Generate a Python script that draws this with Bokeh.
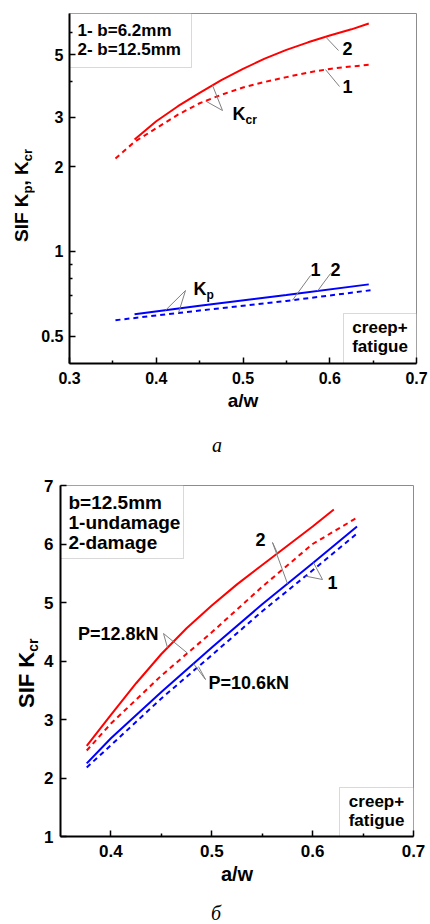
import numpy as np
from bokeh.plotting import figure
from bokeh.layouts import column, row
from bokeh.models import Label, BoxAnnotation, FixedTicker, Range1d, CustomJSTickFormatter, Div
from bokeh.embed import file_html
from bokeh.resources import INLINE

# ---------------- data: panel a (log scale) ----------------
aw_kcr2 = [0.375, 0.40, 0.425, 0.45, 0.475, 0.50, 0.525, 0.55, 0.575, 0.60, 0.625, 0.645]
kcr2 = [2.50, 2.90, 3.28, 3.66, 4.06, 4.45, 4.84, 5.20, 5.53, 5.85, 6.15, 6.45]     # 2- b=12.5mm
aw_kcr1 = [0.353, 0.375, 0.40, 0.425, 0.45, 0.475, 0.50, 0.525, 0.55, 0.575, 0.60, 0.625, 0.645]
kcr1 = [2.14, 2.45, 2.74, 3.06, 3.36, 3.60, 3.82, 4.00, 4.16, 4.32, 4.45, 4.54, 4.60]  # 1- b=6.2mm
aw_kp2 = [0.375, 0.45, 0.55, 0.645]
kp2 = [0.598, 0.641, 0.700, 0.764]
aw_kp1 = [0.353, 0.45, 0.55, 0.647]
kp1 = [0.570, 0.617, 0.667, 0.728]
xticks_a = [0.3, 0.4, 0.5, 0.6, 0.7]
yticks_a = [0.5, 1, 2, 3, 5]

# ---------------- data: panel b (linear) ----------------
aw_b = [0.376, 0.40, 0.45, 0.50, 0.55, 0.60, 0.644]
aw_r2 = [0.376, 0.40, 0.425, 0.45, 0.475, 0.50, 0.525, 0.55, 0.575, 0.60, 0.621]
red_damage = [2.55, 3.08, 3.62, 4.12, 4.56, 4.95, 5.31, 5.64, 5.97, 6.30, 6.59]   # P=12.8kN, 2-damage
red_undamage = [2.47, 2.93, 3.75, 4.49, 5.27, 6.00, 6.45]   # P=12.8kN, 1-undamage
blue_damage = [2.25, 2.68, 3.47, 4.23, 4.97, 5.67, 6.30]    # P=10.6kN, 2-damage
blue_undamage = [2.18, 2.56, 3.36, 4.10, 4.85, 5.55, 6.18]  # P=10.6kN, 1-undamage
xticks_b = [0.4, 0.5, 0.6, 0.7]
yticks_b = [1, 2, 3, 4, 5, 6, 7]

FONT = "Liberation Sans"
SERIF = "Liberation Serif"
RED = "#ff0000"
BLUE = "#0000ff"
GRAY = "#808080"
DASH = "5 4"


def style(p, fs_tick, fs_lab):
    p.xgrid.visible = False
    p.ygrid.visible = False
    p.outline_line_color = "#8c8c8c"
    p.outline_line_width = 1
    p.background_fill_color = "white"
    p.border_fill_color = "white"
    for ax in (p.xaxis[0], p.yaxis[0]):
        ax.axis_line_width = 2
        ax.axis_line_color = "black"
        ax.major_tick_in = 6
        ax.major_tick_out = 0
        ax.minor_tick_in = 3
        ax.minor_tick_out = 0
        ax.major_tick_line_width = 1.5
        ax.minor_tick_line_width = 1.5
        ax.major_tick_line_color = "black"
        ax.minor_tick_line_color = "black"
        ax.major_label_text_font = FONT
        ax.major_label_text_font_style = "bold"
        ax.major_label_text_font_size = f"{fs_tick}px"
        ax.major_label_text_color = "black"
        ax.axis_label_text_font = FONT
        ax.axis_label_text_font_style = "bold"
        ax.axis_label_text_font_size = f"{fs_lab}px"
        ax.axis_label_text_color = "black"
        ax.formatter = CustomJSTickFormatter(code="return tick.toString();")


def lab(p, x, y, text, size, align="left", baseline="middle", font=FONT, fstyle="bold"):
    p.add_layout(Label(x=x, y=y, text=text, text_font=font,
                       text_font_size=f"{size}px", text_font_style=fstyle,
                       text_align=align, text_baseline=baseline, text_color="black"))


def leader(p, x0, y0, x1, y1):
    p.segment(x0=[x0], y0=[y0], x1=[x1], y1=[y1], line_color=GRAY, line_width=1)


def ylabel_div(width, height, left, top, size, sub, parts):
    html = "".join(
        f'<span style="font-size:{sub}px;vertical-align:-4px">{t}</span>' if s else t
        for t, s in parts)
    return Div(width=width, height=height, margin=0, text=(
        f'<div style="position:relative;width:{width}px;height:{height}px;">'
        f'<span style="position:absolute;left:{left}px;top:{top}px;white-space:nowrap;'
        f'transform:rotate(-90deg);transform-origin:0 0;font-family:\'{FONT}\';'
        f'font-weight:bold;font-size:{size}px;line-height:1;color:black;">{html}</span></div>'))


def caption_div(width, height, left, top, text):
    return Div(width=width, height=height, margin=0, text=(
        f'<div style="position:relative;width:{width}px;height:{height}px;">'
        f'<span style="position:absolute;left:{left}px;top:{top}px;font-family:\'{SERIF}\';'
        f'font-style:italic;font-size:20px;line-height:1;color:black;">{text}</span></div>'))


# ================= panel a =================
XA0, XA1, YA0, YA1 = 0.3, 0.7, 0.4, 7.0
LA, TA, WA, HA = 69, 13, 347, 350
DIVA = 34
H1 = 420
p1 = figure(width=430 - DIVA, height=H1, x_range=Range1d(XA0, XA1), y_range=Range1d(YA0, YA1),
            y_axis_type="log", output_backend="svg", toolbar_location=None,
            min_border_left=LA - DIVA, min_border_right=430 - LA - WA,
            min_border_top=TA, min_border_bottom=H1 - TA - HA)
p1.xaxis.ticker = FixedTicker(ticks=xticks_a, minor_ticks=[0.35, 0.45, 0.55, 0.65])
p1.yaxis.ticker = FixedTicker(ticks=yticks_a, minor_ticks=[0.6, 0.7, 0.8, 0.9, 4, 6])
style(p1, 16, 19)
p1.xaxis.axis_label = "a/w"
p1.xaxis.major_label_standoff = 8
p1.xaxis.axis_label_standoff = 3
p1.yaxis.major_label_standoff = 6


def tx(px):
    return XA0 + (px - LA) / WA * (XA1 - XA0)


def ty(py):
    return 10 ** (np.log10(YA1) - (py - TA) / HA * np.log10(YA1 / YA0))


def on_log(xs, ys, x):
    return float(10 ** np.interp(x, xs, np.log10(ys)))


p1.add_layout(BoxAnnotation(left=XA0, right=tx(191), bottom=ty(67), top=YA1, fill_color="white",
                            fill_alpha=1, line_color=GRAY, line_width=1, level="underlay"))
p1.add_layout(BoxAnnotation(left=tx(343), right=XA1, bottom=YA0, top=ty(313), fill_color="white",
                            fill_alpha=1, line_color=GRAY, line_width=1, level="underlay"))

p1.line(aw_kcr2, kcr2, line_color=RED, line_width=2)
p1.line(aw_kcr1, kcr1, line_color=RED, line_width=2, line_dash=DASH)
p1.line(aw_kp2, kp2, line_color=BLUE, line_width=2)
p1.line(aw_kp1, kp1, line_color=BLUE, line_width=2, line_dash=DASH)

lab(p1, tx(77), ty(30), "1- b=6.2mm", 17)
lab(p1, tx(77), ty(49), "2- b=12.5mm", 17)
lab(p1, tx(379.5), ty(327), "creep+", 17, align="center")
lab(p1, tx(379.5), ty(346), "fatigue", 17, align="center")

lab(p1, tx(347), ty(48), "2", 18, align="center")
lab(p1, tx(347), ty(86), "1", 18, align="center")
leader(p1, tx(338), ty(50), tx(325), on_log(aw_kcr2, kcr2, tx(325)))
leader(p1, tx(339), ty(86), tx(325), on_log(aw_kcr1, kcr1, tx(325)))

lab(p1, tx(232), ty(113), "K", 18)
lab(p1, tx(245), ty(119), "cr", 12)
leader(p1, tx(222), ty(110), tx(212), on_log(aw_kcr2, kcr2, tx(212)))
leader(p1, tx(222), ty(110), tx(205), on_log(aw_kcr1, kcr1, tx(205)))

lab(p1, tx(193), ty(288), "K", 18)
lab(p1, tx(206), ty(294), "p", 12)
leader(p1, tx(185), ty(290), tx(165), on_log(aw_kp2, kp2, tx(165)))
leader(p1, tx(185), ty(290), tx(178), on_log(aw_kp1, kp1, tx(178)))

lab(p1, tx(315), ty(269), "1", 18, align="center")
lab(p1, tx(335), ty(269), "2", 18, align="center")
leader(p1, tx(310), ty(275), tx(292), on_log(aw_kp1, kp1, tx(292)))
leader(p1, tx(330), ty(273), tx(317), on_log(aw_kp2, kp2, tx(317)))

ylab1 = ylabel_div(DIVA, H1, 12, 242, 19, 13,
                   [("SIF K", False), ("p", True), (", K", False), ("cr", True)])
cap1 = caption_div(430, 42, 212, 15, "а")

# ================= panel b =================
XB0, XB1, YB0, YB1 = 0.35, 0.7, 1.0, 7.0
LB, TB, WB, HB = 60, 485, 353, 351
DIVB = 40
H2 = 430
TOP2 = 462
p2 = figure(width=430 - DIVB, height=H2, x_range=Range1d(XB0, XB1), y_range=Range1d(YB0, YB1),
            output_backend="svg", toolbar_location=None,
            min_border_left=LB - DIVB, min_border_right=430 - LB - WB,
            min_border_top=TB - TOP2, min_border_bottom=H2 - (TB - TOP2) - HB)
p2.xaxis.ticker = FixedTicker(ticks=xticks_b, minor_ticks=[0.45, 0.55, 0.65])
p2.yaxis.ticker = FixedTicker(ticks=yticks_b, minor_ticks=[])
style(p2, 17, 20)
p2.xaxis.axis_label = "a/w"
p2.xaxis.major_label_standoff = 8
p2.xaxis.axis_label_standoff = 3
p2.yaxis.major_label_standoff = 7


def bx(px):
    return XB0 + (px - LB) / WB * (XB1 - XB0)


def by(py):
    return YB1 - (py - TB) / HB * (YB1 - YB0)


def on_lin(xs, ys, x):
    return float(np.interp(x, xs, ys))


p2.add_layout(BoxAnnotation(left=XB0, right=bx(183), bottom=by(558), top=YB1, fill_color="white",
                            fill_alpha=1, line_color=GRAY, line_width=1, level="underlay"))
p2.add_layout(BoxAnnotation(left=bx(339), right=XB1, bottom=YB0, top=by(787), fill_color="white",
                            fill_alpha=1, line_color=GRAY, line_width=1, level="underlay"))

p2.line(aw_r2, red_damage, line_color=RED, line_width=2)
p2.line(aw_b, red_undamage, line_color=RED, line_width=2, line_dash=DASH)
p2.line(aw_b, blue_damage, line_color=BLUE, line_width=2)
p2.line(aw_b, blue_undamage, line_color=BLUE, line_width=2, line_dash=DASH)

lab(p2, bx(68), by(502), "b=12.5mm", 19)
lab(p2, bx(68), by(522), "1-undamage", 19)
lab(p2, bx(68), by(542), "2-damage", 19)
lab(p2, bx(376), by(801), "creep+", 17, align="center")
lab(p2, bx(376), by(820), "fatigue", 17, align="center")

lab(p2, bx(260), by(539), "2", 18, align="center")
leader(p2, bx(272), by(542), bx(277), on_lin(aw_r2, red_damage, bx(277)))
leader(p2, bx(272), by(542), bx(287), on_lin(aw_b, blue_damage, bx(287)))

lab(p2, bx(332), by(582), "1", 18, align="center")
leader(p2, bx(322), by(579), bx(313), on_lin(aw_b, blue_damage, bx(313)))
leader(p2, bx(322), by(579), bx(305), on_lin(aw_b, blue_undamage, bx(305)))

lab(p2, bx(158), by(633), "P=12.8kN", 18, align="right")
leader(p2, bx(163), by(633), bx(167), on_lin(aw_r2, red_damage, bx(167)))
leader(p2, bx(163), by(633), bx(187), on_lin(aw_b, red_undamage, bx(187)))

lab(p2, bx(208), by(682), "P=10.6kN", 18)
leader(p2, bx(205), by(679), bx(193), on_lin(aw_b, blue_damage, bx(193)))
leader(p2, bx(205), by(679), bx(198), on_lin(aw_b, blue_undamage, bx(198)))

ylab2 = ylabel_div(DIVB, H2, 16, 708 - TOP2, 22, 14, [("SIF K", False), ("cr", True)])
cap2 = caption_div(430, 32, 211, 11, "б")

layout = column(row(ylab1, p1, spacing=0), cap1, row(ylab2, p2, spacing=0), cap2, spacing=0)
open("out.html", "w", encoding="utf-8").write(file_html(layout, INLINE))
